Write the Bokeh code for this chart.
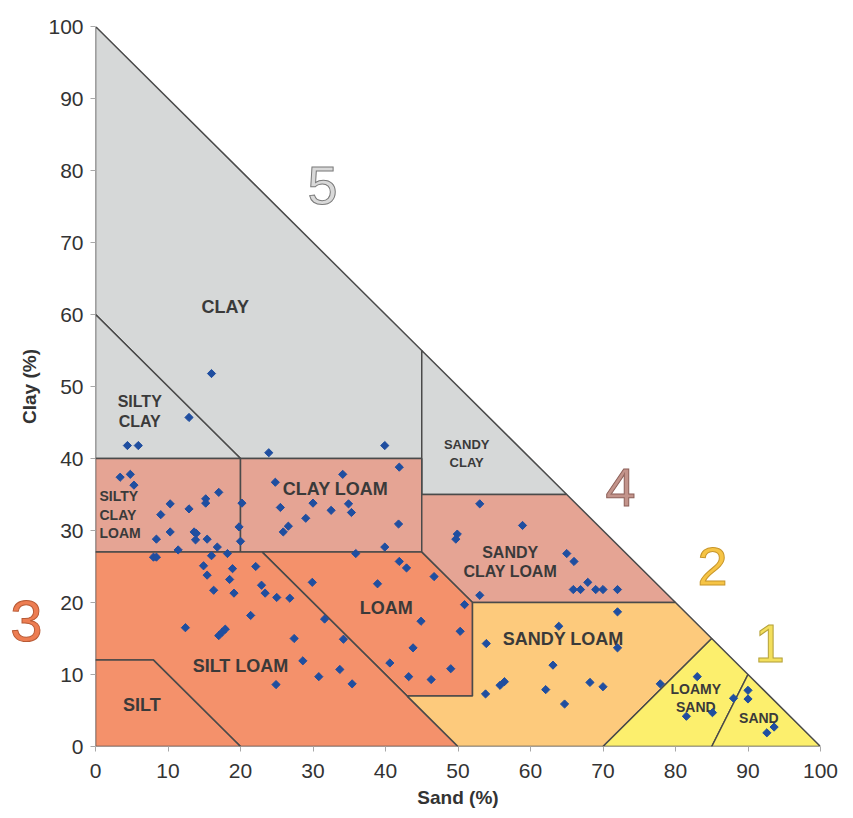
from math import pi
from bokeh.plotting import figure
from bokeh.layouts import row
from bokeh.models import Range1d, ColumnDataSource, FixedTicker
from bokeh.core.properties import value
from bokeh.embed import file_html
from bokeh.resources import INLINE

# ---- texture-class boundaries (sand %, clay %) ----
clay_sand = [0, 0, 45, 45, 20]
clay_clay = [60, 100, 55, 40, 40]
silty_clay_sand = [0, 0, 20]
silty_clay_clay = [40, 60, 40]
sandy_clay_sand = [45, 45, 65]
sandy_clay_clay = [35, 55, 35]
silty_clay_loam_sand = [0, 0, 20, 20]
silty_clay_loam_clay = [27, 40, 40, 27]
clay_loam_sand = [20, 20, 45, 45]
clay_loam_clay = [27, 40, 40, 27]
sandy_clay_loam_sand = [45, 45, 65, 80, 52]
sandy_clay_loam_clay = [27, 35, 35, 20, 20]
loam_sand = [23, 45, 52, 52, 43]
loam_clay = [27, 27, 20, 7, 7]
silt_loam_sand = [0, 0, 23, 50, 20, 8]
silt_loam_clay = [12, 27, 27, 0, 0, 12]
silt_sand = [0, 0, 8, 20]
silt_clay = [0, 12, 12, 0]
sandy_loam_sand = [43, 52, 52, 80, 85, 70, 50]
sandy_loam_clay = [7, 7, 20, 20, 15, 0, 0]
loamy_sand_sand = [70, 85, 90, 85]
loamy_sand_clay = [0, 15, 10, 0]
sand_sand = [85, 90, 100]
sand_clay = [0, 10, 0]

region_sand = [clay_sand, silty_clay_sand, sandy_clay_sand, silty_clay_loam_sand,
               clay_loam_sand, sandy_clay_loam_sand, loam_sand, silt_loam_sand,
               silt_sand, sandy_loam_sand, loamy_sand_sand, sand_sand]
region_clay = [clay_clay, silty_clay_clay, sandy_clay_clay, silty_clay_loam_clay,
               clay_loam_clay, sandy_clay_loam_clay, loam_clay, silt_loam_clay,
               silt_clay, sandy_loam_clay, loamy_sand_clay, sand_clay]
region_color = ["#d6d8d8", "#d6d8d8", "#d6d8d8", "#e5a494", "#e5a494", "#e5a494",
                "#f4916b", "#f4916b", "#f4916b", "#fdca7c", "#fcef6d", "#fcef6d"]

# ---- region labels ----
label_text = ["CLAY", "SILTY\nCLAY", "SANDY\nCLAY", "CLAY LOAM", "SANDY\nCLAY LOAM",
              "LOAM", "SILT LOAM", "SILT", "SANDY LOAM", "LOAMY\nSAND", "SAND"]
label_sand = [17.9, 6.1, 51.2, 33.1, 57.2, 40.1, 20.0, 6.4, 64.5, 82.8, 91.5]
label_clay = [61.0, 46.5, 40.7, 35.8, 25.6, 19.2, 11.25, 5.7, 14.9, 6.7, 4.0]
label_size = ["18px", "16px", "13px", "18px", "16px", "18px", "18px", "18px", "18px", "14px", "14px"]
scl_text = "SILTY\nCLAY\nLOAM"
scl_sand = 0.55
scl_clay = 32.2

# ---- group numbers ----
group_text = ["5", "4", "2", "1"]
group_sand = [31.3, 72.4, 85.1, 93.0]
group_clay = [77.9, 36.0, 25.0, 14.3]
group_fill = ["#d9d9d9", "#c3948b", "#f6c445", "#f3df5c"]
group_line = ["#7a7a7a", "#8c5f58", "#c8962a", "#b5a13a"]
group3_text = "3"
group3_clay = 17.4

# ---- samples ----
sample_sand = [16.0, 12.9, 4.4, 5.9, 23.9, 39.9, 41.9, 34.1, 3.4, 4.8, 5.3, 17.0, 10.3, 12.9,
               15.2, 15.2, 20.2, 9.0, 10.3, 13.6, 13.9, 13.8, 19.8, 8.4, 15.4, 20.0, 11.4,
               16.8, 18.2, 16.0, 8.0, 8.4, 14.9, 18.9, 22.1, 15.4, 18.5, 24.8, 25.5, 25.9,
               26.6, 30.0, 34.9, 35.3, 32.5, 29.0, 41.8, 39.9, 35.9, 41.9, 42.9, 16.3, 19.1,
               22.9, 23.4, 25.0, 26.8, 21.4, 12.4, 17.0, 17.5, 17.9, 24.9, 46.7, 29.9, 38.9,
               50.9, 31.6, 44.9, 27.4, 34.2, 50.3, 43.8, 28.6, 33.7, 40.6, 30.8, 35.4, 43.2,
               46.3, 49.0, 53.0, 58.9, 49.9, 49.7, 65.0, 66.0, 67.9, 65.9, 66.9, 69.0, 70.0,
               72.0, 53.0, 72.0, 63.9, 53.9, 72.0, 63.1, 55.8, 56.4, 53.8, 62.1, 68.2, 70.0,
               64.7, 77.9, 81.5, 83.0, 85.1, 88.0, 90.0, 90.0, 92.6, 93.6]
sample_clay = [51.8, 45.7, 41.8, 41.8, 40.8, 41.8, 38.8, 37.8, 37.4, 37.8, 36.3, 35.3, 33.7, 33.0,
               34.4, 33.8, 33.8, 32.2, 29.8, 29.8, 29.6, 28.7, 30.5, 28.8, 28.8, 28.5, 27.3,
               27.7, 26.8, 26.5, 26.3, 26.3, 25.1, 24.7, 25.0, 23.8, 23.2, 36.7, 33.2, 29.8,
               30.6, 33.8, 33.7, 32.5, 32.8, 31.7, 30.9, 27.7, 26.8, 25.7, 24.8, 21.7, 21.3,
               22.4, 21.3, 20.7, 20.6, 18.2, 16.5, 15.4, 15.9, 16.3, 8.6, 23.6, 22.8, 22.6,
               19.7, 17.7, 17.4, 15.0, 14.9, 16.0, 13.7, 11.9, 10.7, 11.6, 9.7, 8.7, 9.7,
               9.3, 10.8, 33.7, 30.7, 29.5, 28.8, 26.8, 25.7, 22.8, 21.8, 21.8, 21.8, 21.8,
               21.8, 21.0, 18.7, 16.7, 14.3, 13.7, 11.3, 8.5, 9.0, 7.3, 7.9, 8.9, 8.3,
               5.9, 8.7, 4.2, 9.7, 4.7, 6.7, 7.8, 6.6, 1.9, 2.7]

ticks = [0, 10, 20, 30, 40, 50, 60, 70, 80, 90, 100]
x_title = "Sand (%)"
y_title = "Clay (%)"

FONT = "Liberation Sans"
H = 818
TOP, BOTTOM = 26, 72
SIDE_W = 45

# ---- main chart ----
p = figure(width=845 - SIDE_W, height=H, x_range=Range1d(0, 100), y_range=Range1d(0, 100),
           output_backend="svg", toolbar_location=None,
           min_border_left=95 - SIDE_W, min_border_right=25,
           min_border_top=TOP, min_border_bottom=BOTTOM)
p.grid.visible = False
p.outline_line_color = None
p.background_fill_color = "white"
p.border_fill_color = "white"

p.patches(xs=region_sand, ys=region_clay, fill_color=region_color,
          line_color="#4a4a4a", line_width=1.5)

p.text(x=label_sand, y=label_clay, text=label_text, text_font=value(FONT),
       text_font_style="bold", text_font_size=label_size, text_color="#3a3a3a",
       text_align="center", text_baseline="middle", text_line_height=1.15)
p.text(x=[scl_sand], y=[scl_clay], text=[scl_text], text_font=value(FONT),
       text_font_style="bold", text_font_size="14px", text_color="#3a3a3a",
       text_align="left", text_baseline="middle", text_line_height=1.15)

p.scatter(x=sample_sand, y=sample_clay, marker="square", angle=0.785398, size=5.8,
          fill_color="#1f4ea0", line_color="#1f4ea0")

gsrc = ColumnDataSource(dict(x=group_sand, y=group_clay, t=group_text,
                             f=group_fill, l=group_line))
p.text(x="x", y="y", text="t", source=gsrc, text_font=value(FONT),
       text_font_size="54px", text_color="f", text_outline_color="l",
       text_align="center", text_baseline="middle")

for ax in (p.xaxis[0], p.yaxis[0]):
    ax.ticker = FixedTicker(ticks=ticks)
    ax.axis_line_color = None
    ax.major_tick_line_color = "#a8a8a8"
    ax.major_tick_out = 5
    ax.major_tick_in = 0
    ax.minor_tick_line_color = None
    ax.major_label_text_font = FONT
    ax.major_label_text_font_size = "21px"
    ax.major_label_text_color = "#333333"
    ax.axis_label_text_font = FONT
    ax.axis_label_text_font_style = "bold"
    ax.axis_label_text_font_size = "19px"
    ax.axis_label_text_color = "#333333"

p.xaxis.axis_label = x_title
p.xaxis.major_label_standoff = 12
p.xaxis.axis_label_standoff = 6
p.yaxis.major_label_standoff = 7

# ---- narrow side panel holding the y title and the outside group number ----
side = figure(width=SIDE_W, height=H, x_range=Range1d(0, SIDE_W), y_range=Range1d(0, 100),
              x_axis_type=None, y_axis_type=None,
              output_backend="svg", toolbar_location=None,
              min_border_left=0, min_border_right=0,
              min_border_top=TOP, min_border_bottom=BOTTOM)
side.grid.visible = False
side.outline_line_color = None
side.background_fill_color = "white"
side.border_fill_color = "white"
side.text(x=[26], y=[group3_clay], text=[group3_text], text_font=value(FONT),
          text_font_size="58px", text_color="#ed7d52", text_outline_color="#b85a35",
          text_align="center", text_baseline="middle")
side.text(x=[29], y=[50], text=[y_title], angle=pi / 2, text_font=value(FONT),
          text_font_style="bold", text_font_size="19px", text_color="#333333",
          text_align="center", text_baseline="middle")

layout = row(side, p)
open("out.html", "w").write(file_html(layout, INLINE))
